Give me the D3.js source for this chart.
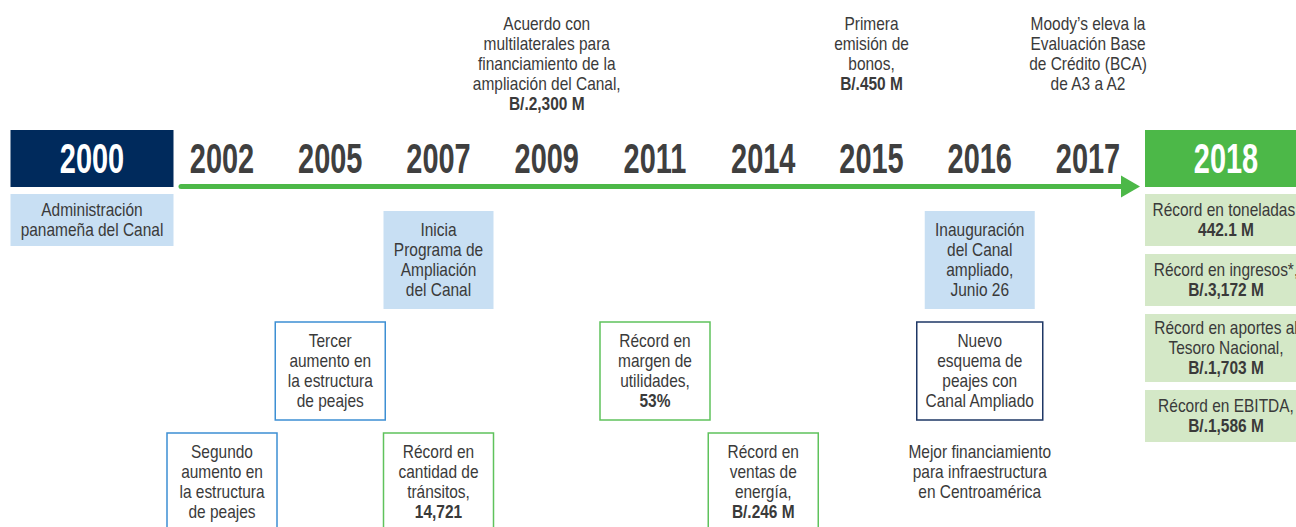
<!DOCTYPE html>
<html>
<head>
<meta charset="utf-8">
<script src="https://cdn.jsdelivr.net/npm/d3@7"></script>
<style>
  body { margin: 0; background: #fff; }
  svg { display: block; font-family: "Liberation Sans", Arial, sans-serif; }
</style>
</head>
<body>
<div id="container"></div>
<script>
/* CONSTANTS AND GLOBALS */
const width = 1296;
const height = 527;

// DATA
const years = ["2000", "2002", "2005", "2007", "2009", "2011", "2014", "2015", "2016", "2017", "2018"];

const topEvents = [
  { year: "2009", lines: ["Acuerdo con", "multilaterales para", "financiamiento de la", "ampliación del Canal,"], value: "B/.2,300 M" },
  { year: "2015", lines: ["Primera", "emisión de", "bonos,"], value: "B/.450 M" },
  { year: "2017", lines: ["Moody’s eleva la", "Evaluación Base", "de Crédito (BCA)", "de A3 a A2"], value: null }
];

const events = [
  { year: "2007", tier: 0, kind: "fillBlue", lines: ["Inicia", "Programa de", "Ampliación", "del Canal"], value: null },
  { year: "2016", tier: 0, kind: "fillBlue", lines: ["Inauguración", "del Canal", "ampliado,", "Junio 26"], value: null },
  { year: "2005", tier: 1, kind: "lineBlue", lines: ["Tercer", "aumento en", "la estructura", "de peajes"], value: null },
  { year: "2011", tier: 1, kind: "lineGreen", lines: ["Récord en", "margen de", "utilidades,"], value: "53%" },
  { year: "2016", tier: 1, kind: "lineNavy", lines: ["Nuevo", "esquema de", "peajes con", "Canal Ampliado"], value: null },
  { year: "2002", tier: 2, kind: "lineBlue", lines: ["Segundo", "aumento en", "la estructura", "de peajes"], value: null },
  { year: "2007", tier: 2, kind: "lineGreen", lines: ["Récord en", "cantidad de", "tránsitos,"], value: "14,721" },
  { year: "2014", tier: 2, kind: "lineGreen", lines: ["Récord en", "ventas de", "energía,"], value: "B/.246 M" },
  { year: "2016", tier: 2, kind: "none", lines: ["Mejor financiamiento", "para infraestructura", "en Centroamérica"], value: null }
];

const firstYearNotes = [
  { lines: ["Administración", "panameña del Canal"], value: null }
];

const lastYearNotes = [
  { lines: ["Récord en toneladas,"], value: "442.1 M" },
  { lines: ["Récord en ingresos*,"], value: "B/.3,172 M" },
  { lines: ["Récord en aportes al", "Tesoro Nacional,"], value: "B/.1,703 M" },
  { lines: ["Récord en EBITDA,"], value: "B/.1,586 M" }
];

// COLOURS
const navy = "#002a5c";
const green = "#4cb848";
const textColor = "#3a3a3a";
const styles = {
  fillBlue: { fill: "#c8dff3", stroke: "none" },
  lineBlue: { fill: "none", stroke: "#3d8fd3" },
  lineGreen: { fill: "none", stroke: "#5fc25c" },
  lineNavy: { fill: "none", stroke: "#1e3765" },
  none: { fill: "none", stroke: "none" }
};

const lineH = 20;
const fontSize = 18;
const squeeze = 0.86;   // condensed look

// SCALES
const xScale = d3.scaleLinear()
  .domain([0, 1, years.length - 2, years.length - 1])
  .range([92, 222, 1088, 1226]);
const xYear = y => xScale(years.indexOf(y));

const tierScale = d3.scaleLinear()
  .domain([0, 2])
  .range([211, 433]);
const boxH = 98;
const minBoxW = 110;
const endBoxW = 163;

// CREATE SVG
const svg = d3.select("#container")
  .append("svg")
  .attr("width", width)
  .attr("height", height);

// writes a block of centered lines, last one optionally bold
function writeLines(g, cx, firstY, d) {
  const all = d.value ? d.lines.concat([d.value]) : d.lines;
  const t = g.append("text")
    .attr("transform", `translate(${cx},0) scale(${squeeze},1)`)
    .attr("text-anchor", "middle")
    .attr("fill", textColor)
    .style("font-size", fontSize + "px");
  all.forEach((s, i) => {
    t.append("tspan")
      .attr("x", 0)
      .attr("y", firstY + i * lineH + 6)
      .style("font-weight", d.value && i === all.length - 1 ? "bold" : "normal")
      .text(s);
  });
  return t;
}

// YEAR HEADER
const headY = 130, headH = 57;
svg.append("rect")
  .attr("x", xYear("2000") - endBoxW / 2).attr("y", headY)
  .attr("width", endBoxW).attr("height", headH)
  .attr("fill", navy);
svg.append("rect")
  .attr("x", xYear("2018") - endBoxW / 2 + 0.5).attr("y", headY)
  .attr("width", endBoxW).attr("height", headH)
  .attr("fill", green);

// ARROW
const arrowY = 186.5;
const lineStart = xYear("2002") - 41;
const tipX = xYear("2018") - 86;
svg.append("line")
  .attr("x1", lineStart).attr("x2", tipX - 14)
  .attr("y1", arrowY).attr("y2", arrowY)
  .attr("stroke", green).attr("stroke-width", 5)
  .attr("stroke-linecap", "round");
svg.append("path")
  .attr("d", `M${tipX - 19},${arrowY - 11} L${tipX},${arrowY} L${tipX - 19},${arrowY + 11} Z`)
  .attr("fill", green);

svg.selectAll("text.year")
  .data(years)
  .join("text")
  .attr("class", "year")
  .attr("transform", d => `translate(${xYear(d)},173) scale(0.69,1)`)
  .attr("text-anchor", "middle")
  .attr("fill", (d, i) => (i === 0 || i === years.length - 1) ? "#fff" : "#3f3f3f")
  .style("font-size", "42px")
  .style("font-weight", "bold")
  .text(d => d);

// TOP EVENTS
topEvents.forEach(d => {
  writeLines(svg.append("g"), xYear(d.year), 24, d);
});

// TIER EVENTS
events.forEach(d => {
  const g = svg.append("g");
  const cx = xYear(d.year);
  const top = tierScale(d.tier);
  const n = d.lines.length + (d.value ? 1 : 0);
  const firstY = d.kind === "none" ? top + 19 : top + boxH / 2 - (n - 1) * lineH / 2;
  const rect = g.append("rect");
  const t = writeLines(g, cx, firstY, d);
  const textW = d3.max(t.selectAll("tspan").nodes(), nd => nd.getComputedTextLength()) * squeeze;
  const w = Math.max(minBoxW, Math.round(textW + 18));
  const st = styles[d.kind];
  rect.attr("x", cx - w / 2).attr("y", top)
    .attr("width", w).attr("height", boxH)
    .attr("fill", st.fill)
    .attr("stroke", st.stroke)
    .attr("stroke-width", 1.5);
});

// END COLUMN STACKS
function stack(notes, year, fill) {
  let y = 194;
  notes.forEach(d => {
    const n = d.lines.length + (d.value ? 1 : 0);
    const h = 16 * n + 20;
    const g = svg.append("g");
    const cx = xYear(year);
    g.append("rect")
      .attr("x", cx - endBoxW / 2 + (year === "2018" ? 0.5 : 0)).attr("y", y)
      .attr("width", endBoxW).attr("height", h)
      .attr("fill", fill);
    writeLines(g, cx, y + h / 2 - (n - 1) * lineH / 2, d);
    y += h + 8;
  });
}
stack(firstYearNotes, "2000", "#c8dff3");
stack(lastYearNotes, "2018", "#d4e8c7");
</script>
</body>
</html>
